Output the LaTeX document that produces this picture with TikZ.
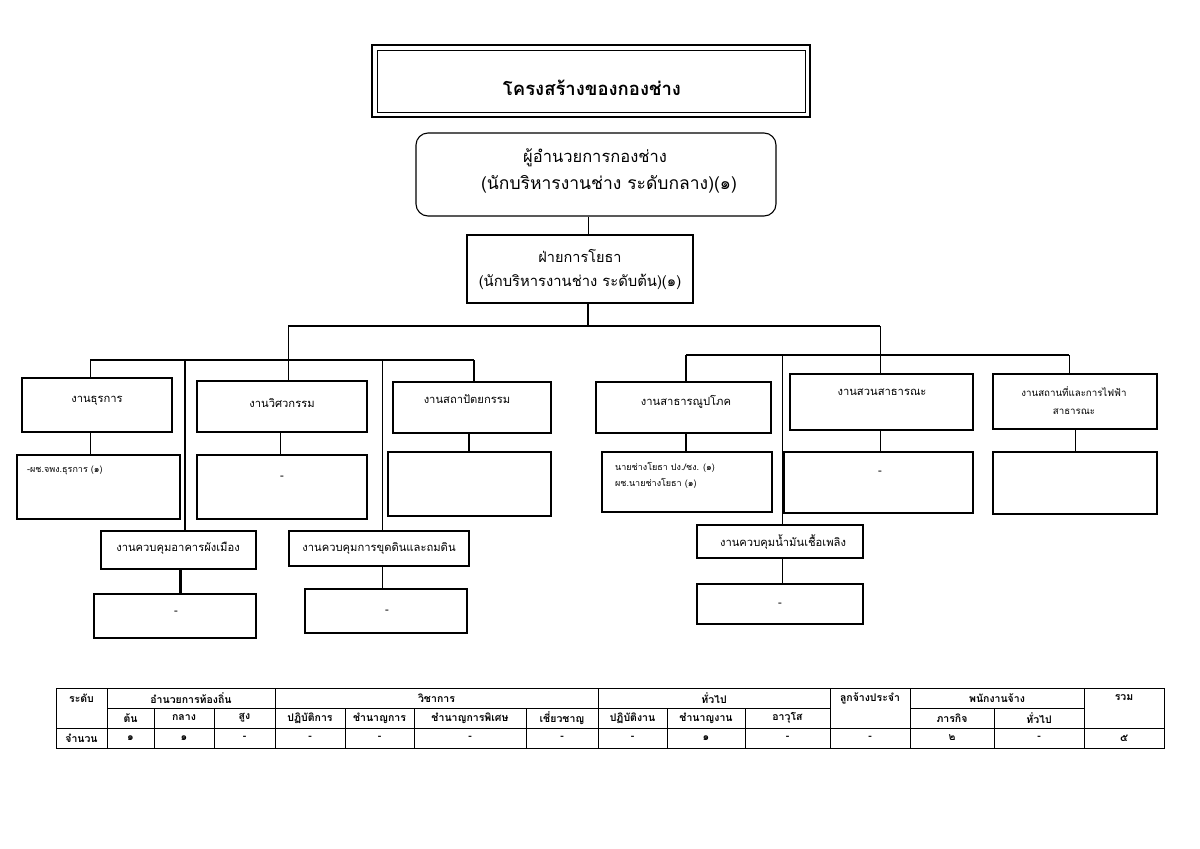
\documentclass[tikz,border=0pt]{standalone}
\usepackage{fontspec}
\setmainfont[Script=Thai]{Loma}
\usetikzlibrary{fit,shadows}
\begin{document}
\begin{tikzpicture}[x=1pt,y=-1pt,
  box/.style={draw, line width=1.1pt, inner sep=0pt, fill=white,
    copy shadow={shadow xshift=0.9pt, shadow yshift=-0.9pt, draw=black, fill=black}},
  plainbox/.style={draw, line width=1.1pt, inner sep=0pt, fill=white},
  conn/.style={line width=0.9pt},
  bus/.style={line width=2.4pt},
  lbl/.style={inner sep=0pt, font=\fontsize{11.2}{13}\selectfont},
  small/.style={inner sep=0pt, anchor=west, font=\fontsize{9}{11}\selectfont},
  tb/.style={inner sep=0pt, font=\fontsize{10.5}{12}\selectfont\bfseries},
  tline/.style={line width=0.9pt}
]
\useasboundingbox (0,0) rectangle (1200,849);
\fill[white] (0,0) rectangle (1200,849);

% title
\node[plainbox, line width=2.6pt, fit={(372,45) (810,117)}] (tout) {};
\node[plainbox, line width=1pt, fit={(377,50) (805,112)}] (tin) {};
\node[inner sep=0pt, font=\fontsize{18.5}{22}\selectfont\bfseries] (ttl) at (592,88) {โครงสร้างของกองช่าง};

% director
\node[plainbox, rounded corners=12pt, fit={(416,133) (776,216)}] (dir) {};
\node[inner sep=0pt, font=\fontsize{16.5}{19}\selectfont] (dir1) at (595,158) {ผู้อำนวยการกองช่าง};
\node[inner sep=0pt, font=\fontsize{17.5}{20}\selectfont] (dir2) at (609,184) {(นักบริหารงานช่าง ระดับกลาง)(๑)};

% fai
\node[plainbox, fit={(467,235) (693,303)}] (fy) {};
\node[inner sep=0pt, font=\fontsize{14.5}{17}\selectfont] (fy1) at (580,256) {ฝ่ายการโยธา};
\node[inner sep=0pt, font=\fontsize{14.8}{17}\selectfont] (fy2) at (580,282) {(นักบริหารงานช่าง ระดับต้น)(๑)};

% left boxes
\node[box, fit={(22,378) (172,432)}] (dhu) {};
\node[lbl] (dhut) at (97,401) {งานธุรการ};
\node[box, fit={(17,455) (180,519)}] (dhus) {};
\node[small] (dhust) at (27,470) {-ผช.จพง.ธุรการ (๑)};

\node[box, fit={(197,381) (367,432)}] (eng) {};
\node[lbl] (engt) at (282,403) {งานวิศวกรรม};
\node[box, fit={(197,455) (367,519)}] (engs) {};
\node[lbl] (engst) at (282,478) {-};

\node[box, fit={(393,382) (551,433)}] (arch) {};
\node[lbl] (archt) at (467,399) {งานสถาปัตยกรรม};
\node[box, fit={(388,452) (551,516)}] (archs) {};

\node[box, fit={(101,531) (256,569)}] (bldg) {};
\node[lbl] (bldgt) at (178,548) {งานควบคุมอาคารผังเมือง};
\node[box, fit={(94,594) (256,638)}] (bldgs) {};
\node[lbl] (bldgst) at (176,613) {-};

\node[box, fit={(289,531) (469,566)}] (dig) {};
\node[lbl] (digt) at (379,548) {งานควบคุมการขุดดินและถมดิน};
\node[box, fit={(305,589) (467,633)}] (digs) {};
\node[lbl] (digst) at (387,612) {-};

% right boxes
\node[box, fit={(596,382) (771,433)}] (util) {};
\node[lbl] (utilt) at (686,402) {งานสาธารณูปโภค};
\node[box, fit={(602,452) (772,512)}] (utils) {};
\node[small] (utils1) at (615,467) {นายช่างโยธา ปง./ชง. (๑)};
\node[small] (utils2) at (615,483) {ผช.นายช่างโยธา (๑)};

\node[box, fit={(697,525) (863,558)}] (fuel) {};
\node[lbl] (fuelt) at (783,542) {งานควบคุมน้ำมันเชื้อเพลิง};
\node[box, fit={(697,584) (863,624)}] (fuels) {};
\node[lbl] (fuelst) at (780,605) {-};

\node[box, fit={(790,374) (973,430)}] (park) {};
\node[lbl] (parkt) at (882,392) {งานสวนสาธารณะ};
\node[box, fit={(784,452) (973,513)}] (parks) {};
\node[lbl] (parkst) at (880,473) {-};

\node[box, fit={(993,374) (1157,429)}] (place) {};
\node[inner sep=0pt, font=\fontsize{9.7}{12}\selectfont] (placet1) at (1074,392) {งานสถานที่และการไฟฟ้า};
\node[inner sep=0pt, font=\fontsize{9.7}{12}\selectfont] (placet2) at (1074,412) {สาธารณะ};
\node[box, fit={(993,452) (1157,514)}] (places) {};

% connectors
\coordinate (tl) at (288,326);
\coordinate (tr) at (880,326);
\coordinate (bl1) at (90,360);
\coordinate (bl2) at (474,360);
\coordinate (bl3) at (185,360);
\coordinate (bl4) at (382,360);
\coordinate (br1) at (686,355);
\coordinate (br2) at (1069,355);
\coordinate (br3) at (782,355);

\draw[conn] (dir.south) ++(-8,0) coordinate (ds) -- (ds |- fy.north);
\draw[bus] (fy.south -| ds) -- (ds |- tl);
\draw[bus] (tl) -- (tr);
\draw[bus] (bl1) -- (bl2);
\draw[bus] (br1) -- (br2);
\draw[conn] (tl) -- (tl |- eng.north);
\draw[conn] (tr) -- (tr |- park.north);
\draw[conn] (bl1) -- (bl1 |- dhu.north);
\draw[bus] (bl2) -- (bl2 |- arch.north);
\draw[bus] (bl3) -- (bl3 |- bldg.north);
\draw[conn] (bl4) -- (bl4 |- dig.north);
\draw[bus] (br1) -- (br1 |- util.north);
\draw[conn] (br2) -- (br2 |- place.north);
\draw[conn] (br3) -- (br3 |- fuel.north);

\draw[conn] (dhu.south -| bl1) -- (dhus.north -| bl1);
\draw[conn] (eng.south) ++(-2,0) coordinate (es) -- (es |- engs.north);
\draw[bus] (arch.south) ++(-3,0) coordinate (as) -- (as |- archs.north);
\draw[bus] (bldg.south) ++(2,0) coordinate (bs) -- (bs |- bldgs.north);
\draw[conn] (dig.south -| bl4) -- (digs.north -| bl4);
\draw[bus] (util.south -| br1) -- (utils.north -| br1);
\draw[conn] (fuel.south -| br3) -- (fuels.north -| br3);
\draw[conn] (park.south -| tr) -- (parks.north -| tr);
\draw[conn] (place.south) coordinate (ps) -- (ps |- places.north);

% table
\draw[tline] (56,688) rectangle (1164,748);
\draw[tline] (56,728) -- (1164,728);
\draw[tline] (107,708) -- (830,708);
\draw[tline] (910,708) -- (1084,708);
\foreach \x in {107,275,598,830,910,1084} \draw[tline] (\x,688) -- (\x,748);
\foreach \x in {154,214,345,414,526,667,745,994} \draw[tline] (\x,708) -- (\x,748);

\node[tb] (h1) at (81.5,698) {ระดับ};
\node[tb] (h2) at (191,698) {อำนวยการท้องถิ่น};
\node[tb] (h3) at (436.5,698) {วิชาการ};
\node[tb] (h4) at (714,698) {ทั่วไป};
\node[tb] (h5) at (870,698) {ลูกจ้างประจำ};
\node[tb] (h6) at (997,698) {พนักงานจ้าง};
\node[tb] (h7) at (1124,698) {รวม};

\node[tb] (s1) at (130.5,718) {ต้น};
\node[tb] (s2) at (184,718) {กลาง};
\node[tb] (s3) at (244.5,718) {สูง};
\node[tb] (s4) at (310,718) {ปฏิบัติการ};
\node[tb] (s5) at (379.5,718) {ชำนาญการ};
\node[tb] (s6) at (470,718) {ชำนาญการพิเศษ};
\node[tb] (s7) at (562,718) {เชี่ยวชาญ};
\node[tb] (s8) at (632.5,718) {ปฏิบัติงาน};
\node[tb] (s9) at (706,718) {ชำนาญงาน};
\node[tb] (s10) at (787.5,718) {อาวุโส};
\node[tb] (s11) at (952,718) {ภารกิจ};
\node[tb] (s12) at (1039,718) {ทั่วไป};

\node[tb] (v0) at (81.5,738) {จำนวน};
\node[tb] (v1) at (130.5,738) {๑};
\node[tb] (v2) at (184,738) {๑};
\node[tb] (v3) at (244.5,738) {-};
\node[tb] (v4) at (310,738) {-};
\node[tb] (v5) at (379.5,738) {-};
\node[tb] (v6) at (470,738) {-};
\node[tb] (v7) at (562,738) {-};
\node[tb] (v8) at (632.5,738) {-};
\node[tb] (v9) at (706,738) {๑};
\node[tb] (v10) at (787.5,738) {-};
\node[tb] (v11) at (870,738) {-};
\node[tb] (v12) at (952,738) {๒};
\node[tb] (v13) at (1039,738) {-};
\node[tb] (v14) at (1124,738) {๕};
\end{tikzpicture}
\end{document}
